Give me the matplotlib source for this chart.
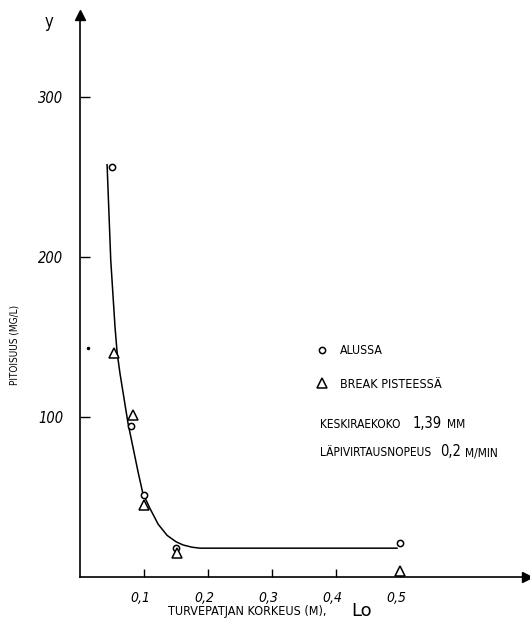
import matplotlib
matplotlib.use("Agg")
import matplotlib.pyplot as plt
import matplotlib.transforms as mtransforms

# ---- data ----
alussa_x = [0.05, 0.08, 0.10, 0.15, 0.50]
alussa_y = [256, 94, 51, 18, 21]
break_x = [0.053, 0.082, 0.10, 0.152, 0.50]
break_y = [140, 101, 45, 15, 4]
curve_x = [0.0423, 0.048, 0.0547, 0.058, 0.0625, 0.075, 0.091, 0.098, 0.109, 0.122, 0.136, 0.150, 0.161, 0.175, 0.1875, 0.495]
curve_y = [257.5, 198, 156, 140, 127, 96, 65, 52.5, 43, 33, 26, 22, 20, 18.6, 18, 18]
xticks = [0.1, 0.2, 0.3, 0.4, 0.5]
xticklabels = ["0,1", "0,2", "0,3", "0,4", "0,5"]
yticks = [100, 200, 300]
yticklabels = ["100", "200", "300"]

plt.rcParams['font.family'] = ['DejaVu Sans']
plt.rcParams['font.stretch'] = 'condensed'

fig = plt.figure(figsize=(5.3, 6.35), dpi=100)
ax = fig.add_axes([80/530, 58/635, 447/530, 562/635])
ax.set_xlim(0, 0.698)
ax.set_ylim(0, 351)

for s in ['top', 'right']:
    ax.spines[s].set_visible(False)
for s in ['left', 'bottom']:
    ax.spines[s].set_linewidth(1.2)

ax.plot(1, 0, '>', color='black', markersize=7, transform=ax.transAxes, clip_on=False)
ax.plot(0, 1, '^', color='black', markersize=7, transform=ax.transAxes, clip_on=False)

ax.plot(curve_x, curve_y, color='black', linewidth=1.1, clip_on=False)
ax.plot(alussa_x, alussa_y, 'o', markerfacecolor='white', markeredgecolor='black',
        markersize=4.5, markeredgewidth=1.1, clip_on=False, zorder=3)
ax.plot(break_x, break_y, '^', markerfacecolor='white', markeredgecolor='black',
        markersize=7.5, markeredgewidth=1.1, clip_on=False, zorder=3)
ax.plot([0.0125], [143], '.', color='black', markersize=3)

ax.set_xticks(xticks)
ax.set_xticklabels(xticklabels, fontstyle='italic', fontsize=10)
ax.set_yticks(yticks)
ax.set_yticklabels(yticklabels, fontstyle='italic', fontsize=10.5)
ax.tick_params(axis='x', direction='in', length=6, width=1, pad=10)
ax.tick_params(axis='y', direction='in', length=7, width=1, pad=12)
shift = mtransforms.ScaledTranslation(-4/100, 0, fig.dpi_scale_trans)
for lab in ax.get_xticklabels():
    lab.set_transform(lab.get_transform() + shift)

fig.text(49/530, 1 - 22/635, "y", fontsize=12, ha='center', va='center')
fig.text(15/530, 1 - 345/635, "PITOISUUS (MG/L)", fontsize=7.2, rotation=90, ha='center', va='center')
fig.text(247/530, 1 - 611/635, "TURVEPATJAN KORKEUS (M),", fontsize=9, ha='center', va='center')
fig.text(362/530, 1 - 611/635, "Lo", fontsize=13, ha='center', va='center', fontstretch='normal')

# legend-like annotations
fig.lines.append(plt.Line2D([322/530], [1 - 350/635], marker='o', markerfacecolor='white',
                            markeredgecolor='black', markersize=4.5, markeredgewidth=1.1,
                            transform=fig.transFigure))
fig.lines.append(plt.Line2D([322/530], [1 - 383/635], marker='^', markerfacecolor='white',
                            markeredgecolor='black', markersize=7.5, markeredgewidth=1.1,
                            transform=fig.transFigure))
fig.text(340/530, 1 - 350/635, "ALUSSA", fontsize=8.8, va='center')
fig.text(340/530, 1 - 384/635, "BREAK PISTEESSÄ", fontsize=9, va='center')
fig.text(320/530, 1 - 425/635, "KESKIRAEKOKO", fontsize=8.6, va='center')
fig.text(413/530, 1 - 423/635, "1,39", fontsize=10.5, va='center')
fig.text(447/530, 1 - 425/635, "MM", fontsize=8.6, va='center')
fig.text(320/530, 1 - 453/635, "LÄPIVIRTAUSNOPEUS", fontsize=8.6, va='center')
fig.text(440/530, 1 - 451/635, "0,2", fontsize=10.5, va='center')
fig.text(465/530, 1 - 453/635, "M/MIN", fontsize=8.6, va='center')

fig.savefig("out.png", dpi=100)
